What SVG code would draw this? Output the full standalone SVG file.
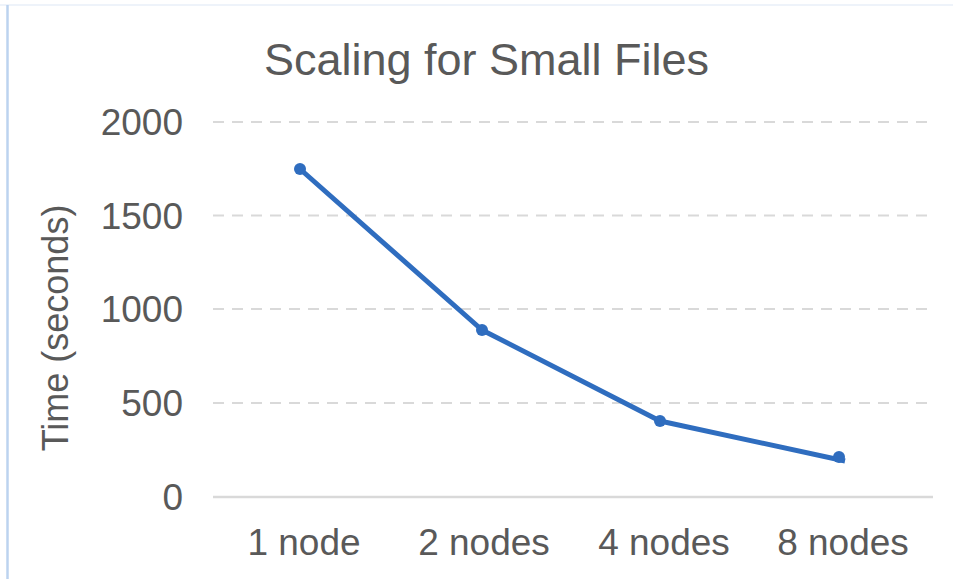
<svg xmlns="http://www.w3.org/2000/svg" width="953" height="579" viewBox="0 0 953 579">
  <style>
    .lbl { font-family: "Liberation Sans", Arial, sans-serif; fill: #595959; }
    .tick { font-size: 37px; }
    .grid { stroke: #d9d9d9; stroke-width: 2; stroke-dasharray: 11 8; fill: none; }
    .axis { stroke: #d9d9d9; stroke-width: 2.5; fill: none; }
    .series { stroke: #2f6dbf; stroke-width: 5; fill: none; stroke-linejoin: round; }
    .pt { fill: #2f6dbf; }
  </style>

  <!-- chart area -->
  <rect x="0" y="0" width="953" height="579" fill="#ffffff"/>
  <line x1="0" y1="5" x2="953" y2="5" stroke="#eef3fa" stroke-width="2"/>
  <line x1="7.5" y1="5" x2="7.5" y2="579" stroke="#bcd3ef" stroke-width="2.5"/>

  <!-- title -->
  <text class="lbl" x="486.5" y="75" font-size="45" text-anchor="middle">Scaling for Small Files</text>

  <!-- horizontal gridlines -->
  <g id="gridlines">
    <line class="grid" x1="213" y1="122" x2="933" y2="122"/>
    <line class="grid" x1="213" y1="215.5" x2="933" y2="215.5"/>
    <line class="grid" x1="213" y1="309" x2="933" y2="309"/>
    <line class="grid" x1="213" y1="403" x2="933" y2="403"/>
    <line class="axis" x1="213" y1="497" x2="933" y2="497"/>
  </g>

  <!-- value axis -->
  <g id="y-axis" class="lbl tick" text-anchor="end">
    <text x="183" y="135">2000</text>
    <text x="183" y="228.5">1500</text>
    <text x="183" y="322">1000</text>
    <text x="183" y="416">500</text>
    <text x="183" y="510">0</text>
  </g>
  <text class="lbl" font-size="36" text-anchor="middle" transform="translate(68 328) rotate(-90)">Time (seconds)</text>

  <!-- category axis -->
  <g id="x-axis" class="lbl tick" text-anchor="middle">
    <text x="304" y="555">1 node</text>
    <text x="484" y="555">2 nodes</text>
    <text x="664" y="555">4 nodes</text>
    <text x="843" y="555">8 nodes</text>
  </g>

  <!-- data series -->
  <g id="connectors">
    <polyline class="series" points="300,169 482,330 660,421 845,461"/>
  </g>
  <g id="node-1"><circle class="pt" cx="300" cy="169" r="6"/></g>
  <g id="node-2"><circle class="pt" cx="482" cy="330" r="6"/></g>
  <g id="node-4"><circle class="pt" cx="660" cy="421" r="6"/></g>
  <g id="node-8"><circle class="pt" cx="839" cy="457" r="6"/></g>
</svg>
